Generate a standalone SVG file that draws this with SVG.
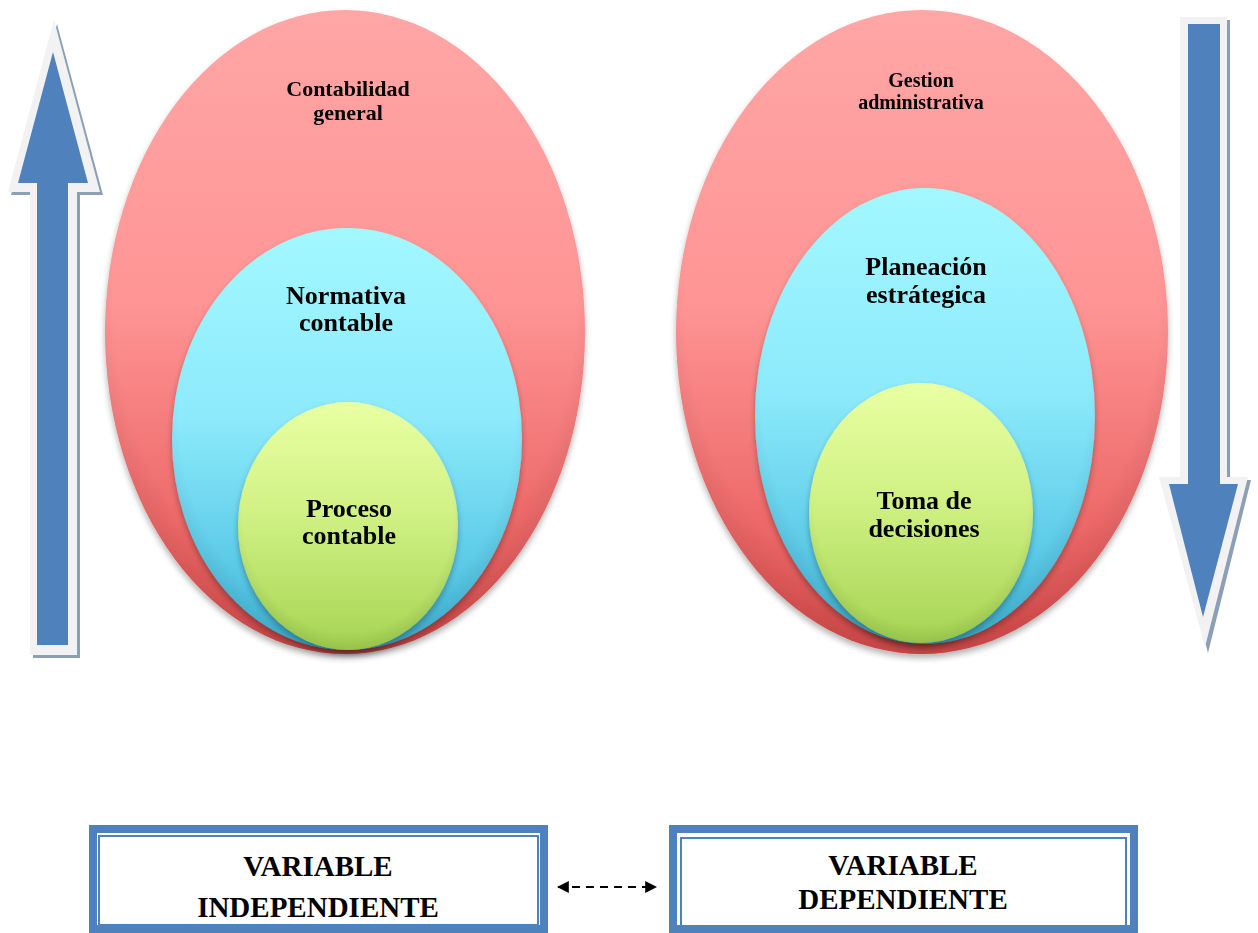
<svg xmlns="http://www.w3.org/2000/svg" width="1258" height="933" viewBox="0 0 1258 933">
<style>
  text { font-family: "Liberation Serif", "Times New Roman", serif; font-weight: bold; fill: #000; text-anchor: middle; }
  .big { font-size: 26px; }
  .box { fill: #fff; stroke: #4f81bd; stroke-width: 8; }
  .boxin { fill: none; stroke: #4f81bd; stroke-width: 2; }
  .arrowOut { fill: #f2f2f2; }
  .arrowIn { fill: #4f81bd; }
  .arrowSh { fill: #8d9fb6; }
</style>
<defs>
  <linearGradient id="gRed" x1="0" y1="0" x2="0" y2="1">
    <stop offset="0" stop-color="#ffa6a6"/>
    <stop offset="0.45" stop-color="#ff9595"/>
    <stop offset="0.8" stop-color="#ed6868"/>
    <stop offset="1" stop-color="#d84a4a"/>
  </linearGradient>
  <linearGradient id="gBlue" x1="0" y1="0" x2="0" y2="1">
    <stop offset="0" stop-color="#a3f8ff"/>
    <stop offset="0.45" stop-color="#8ceafb"/>
    <stop offset="1" stop-color="#3fb8dc"/>
  </linearGradient>
  <linearGradient id="gGreen" x1="0" y1="0" x2="0" y2="1">
    <stop offset="0" stop-color="#e9ffa3"/>
    <stop offset="0.45" stop-color="#d0f184"/>
    <stop offset="1" stop-color="#a5d452"/>
  </linearGradient>
  <radialGradient id="gRim" cx="0.5" cy="0.45" r="0.56">
    <stop offset="0.86" stop-color="#000" stop-opacity="0"/>
    <stop offset="1" stop-color="#000" stop-opacity="0.1"/>
  </radialGradient>
  <filter id="sh" x="-10%" y="-10%" width="120%" height="125%">
    <feGaussianBlur in="SourceAlpha" stdDeviation="3"/>
    <feOffset dx="0" dy="4" result="b"/>
    <feComponentTransfer><feFuncA type="linear" slope="0.3"/></feComponentTransfer>
    <feMerge><feMergeNode/><feMergeNode in="SourceGraphic"/></feMerge>
  </filter>
  <marker id="ah" viewBox="0 0 10 10" refX="9" refY="5" markerWidth="12" markerHeight="12" markerUnits="userSpaceOnUse" orient="auto-start-reverse">
    <path d="M0,0 L10,5 L0,10 Z" fill="#000"/>
  </marker>
</defs>

<g id="arrow-up">
  <polygon class="arrowSh" points="57,24 103,195 80,195 80,658 33,658 33,195 11,195"/>
  <polygon class="arrowOut" points="54,20 100,192 77,192 77,655 30,655 30,192 8,192"/>
  <polygon class="arrowIn" points="53,52 88,183 68,183 68,645 37,645 37,183 18,183"/>
</g>

<g id="arrow-down">
  <polygon class="arrowSh" points="1183,20 1230,20 1230,480 1251,480 1208,653 1162,480 1183,480"/>
  <polygon class="arrowOut" points="1180,17 1227,17 1227,477 1248,477 1205,647 1159,477 1180,477"/>
  <polygon class="arrowIn" points="1188,24 1220,24 1220,484 1238,484 1203,617 1169,484 1188,484"/>
</g>

<g id="contabilidad-general" filter="url(#sh)">
  <ellipse cx="345" cy="332" rx="240" ry="322" fill="url(#gRed)"/>
  <ellipse cx="345" cy="332" rx="240" ry="322" fill="url(#gRim)"/>
  <text x="348" y="96" style="font-size:22px">Contabilidad</text>
  <text x="348" y="120" style="font-size:22px">general</text>
</g>
<g id="normativa-contable" filter="url(#sh)">
  <ellipse cx="347" cy="439" rx="175" ry="211" fill="url(#gBlue)"/>
  <ellipse cx="347" cy="439" rx="175" ry="211" fill="url(#gRim)"/>
  <text class="big" x="346" y="304">Normativa</text>
  <text class="big" x="346" y="331">contable</text>
</g>
<g id="proceso-contable" filter="url(#sh)">
  <ellipse cx="348" cy="526" rx="110" ry="124" fill="url(#gGreen)"/>
  <ellipse cx="348" cy="526" rx="110" ry="124" fill="url(#gRim)"/>
  <text class="big" x="349" y="517">Proceso</text>
  <text class="big" x="349" y="544">contable</text>
</g>

<g id="gestion-administrativa" filter="url(#sh)">
  <ellipse cx="922" cy="332" rx="246" ry="322" fill="url(#gRed)"/>
  <ellipse cx="922" cy="332" rx="246" ry="322" fill="url(#gRim)"/>
  <text x="921" y="87" style="font-size:20px">Gestion</text>
  <text x="921" y="109" style="font-size:20px">administrativa</text>
</g>
<g id="planeacion-estrategica" filter="url(#sh)">
  <ellipse cx="925" cy="416" rx="170" ry="228" fill="url(#gBlue)"/>
  <ellipse cx="925" cy="416" rx="170" ry="228" fill="url(#gRim)"/>
  <text class="big" x="926" y="275">Planeación</text>
  <text class="big" x="926" y="303">estrátegica</text>
</g>
<g id="toma-de-decisiones" filter="url(#sh)">
  <ellipse cx="921" cy="513" rx="112" ry="130" fill="url(#gGreen)"/>
  <ellipse cx="921" cy="513" rx="112" ry="130" fill="url(#gRim)"/>
  <text class="big" x="924" y="509">Toma de</text>
  <text class="big" x="924" y="537">decisiones</text>
</g>

<g id="variable-independiente">
  <rect class="box" x="93" y="829" width="451" height="100"/>
  <rect class="boxin" x="99" y="836" width="439" height="89"/>
  <text x="318" y="876" style="font-size:29px">VARIABLE</text>
  <text x="318" y="917" style="font-size:29px">INDEPENDIENTE</text>
</g>
<g id="variable-dependiente">
  <rect class="box" x="673" y="829" width="461" height="100"/>
  <rect class="boxin" x="681" y="838" width="445" height="88"/>
  <text x="903" y="875" style="font-size:29px">VARIABLE</text>
  <text x="903" y="909" style="font-size:29px">DEPENDIENTE</text>
</g>

<g id="connectors">
  <line x1="558" y1="887" x2="656" y2="887" stroke="#000" stroke-width="2" stroke-dasharray="8,6" marker-start="url(#ah)" marker-end="url(#ah)"/>
</g>
</svg>
